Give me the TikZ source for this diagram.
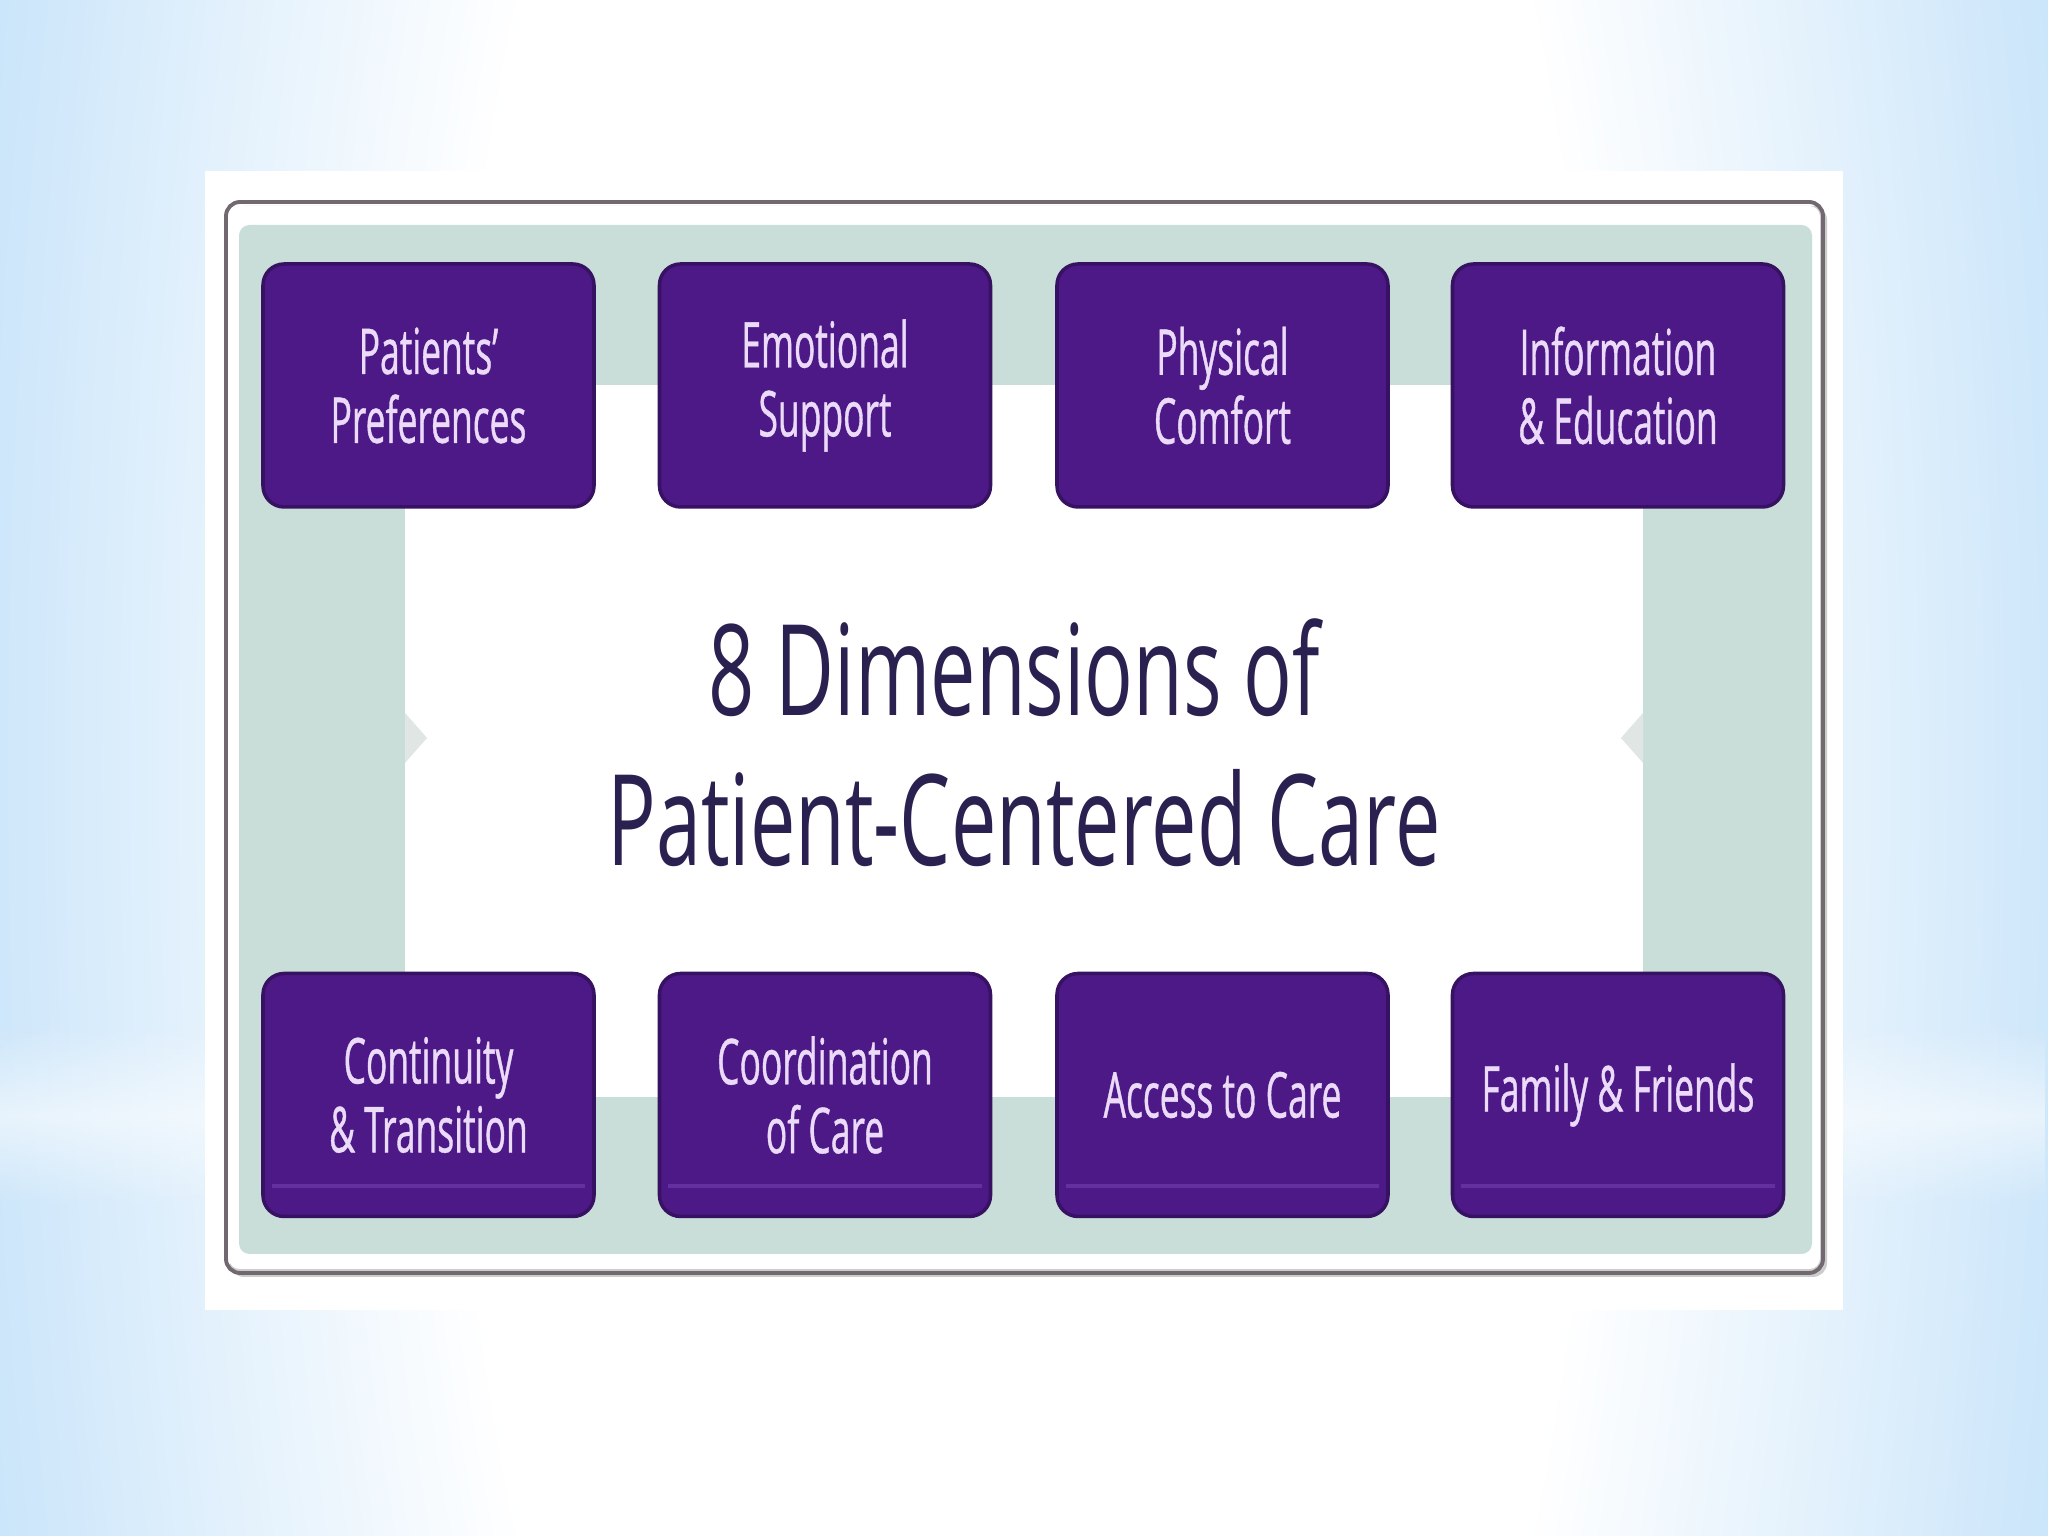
\documentclass[tikz,border=0pt]{standalone}
\usepackage{fontspec}
\setmainfont{Open Sans}
\newfontfamily\boxfont[FakeStretch=0.56, FakeBold=0.6]{Open Sans}
\newfontfamily\titlefont[FakeStretch=0.64]{Open Sans}
\usetikzlibrary{fadings}
\definecolor{bgblue}{HTML}{9ACDF5}
\definecolor{mint}{HTML}{C9DED8}
\definecolor{bordergray}{HTML}{716870}
\definecolor{boxpurple}{HTML}{4C1987}
\definecolor{boxedge}{HTML}{381262}
\definecolor{boxtext}{HTML}{EBDAF8}
\definecolor{boxstripe}{HTML}{6430A0}
\definecolor{titlecol}{HTML}{2B2150}
\definecolor{notchgray}{HTML}{DFE6E3}
\pgfdeclareradialshading{bgglow}{\pgfpoint{0bp}{0bp}}{color(0bp)=(white); color(14bp)=(white); color(37bp)=(bgblue); color(80bp)=(bgblue)}
\tikzfading[name=bandfade, top color=transparent!100, bottom color=transparent!100, middle color=transparent!30]
\tikzset{
  dimbox/.style={fill=boxpurple, draw=boxedge, line width=1pt, rounded corners=6pt,
    minimum width=3.31cm, minimum height=2.43cm, align=center, text=boxtext,
    font=\boxfont\fontsize{18}{19.6}\selectfont, inner sep=0pt},
  titletext/.style={text=titlecol, font=\titlefont\fontsize{36}{43}\selectfont, inner sep=0pt, anchor=base},
  stripe/.style={draw=boxstripe, line width=1.2pt}
}
\begin{document}
\begin{tikzpicture}
\useasboundingbox (0,0) rectangle (20.48,15.36);
% background
\fill[bgblue] (0,0) rectangle (20.48,15.36);
\begin{scope}
\clip (0,0) rectangle (20.48,15.36);
\shade[shading=bgglow] (0,-20) rectangle (20.48,35.36);
\fill[white, path fading=bandfade, opacity=0.75] (0,3.3) rectangle (20.48,5.1);
\end{scope}
% panel
\fill[white] (2.05,2.26) rectangle (18.43,13.65);
\fill[black!20, rounded corners=4pt] (2.30,2.59) rectangle (18.27,13.30);
\draw[draw=bordergray, line width=1.1pt, rounded corners=4pt] (2.26,2.63) rectangle (18.23,13.34);
\fill[white, rounded corners=3pt] (2.29,2.67) rectangle (18.20,13.30);
\fill[mint, rounded corners=3pt] (2.39,2.82) rectangle (18.12,13.11);
\fill[white] (4.05,4.39) rectangle (16.43,11.51);
% notches
\fill[notchgray] (4.05,8.23) -- (4.27,7.98) -- (4.05,7.73) -- cycle;
\fill[notchgray] (16.43,8.23) -- (16.21,7.98) -- (16.43,7.73) -- cycle;
% title
\node[titletext] (title1) at (10.14,8.20) {8 Dimensions of};
\node[titletext] (title2) at (10.24,6.70) {Patient-Centered Care};
% top row
\node[dimbox] (pref) at (4.285,11.505) {Patients’\\Preferences};
\node[dimbox] (emot) at (8.25,11.505) {Emotional\\Support};
\node[dimbox] (phys) at (12.225,11.505) {Physical\\Comfort};
\node[dimbox] (info) at (16.18,11.505) {Information\\\& Education};
% bottom row
\node[dimbox] (cont) at (4.285,4.41) {Continuity\\\& Transition};
\node[dimbox] (coord) at (8.25,4.41) {Coordination\\of Care};
\node[dimbox] (access) at (12.225,4.41) {Access to Care};
\node[dimbox] (family) at (16.18,4.41) {Family \& Friends};
\foreach \b in {cont,coord,access,family}{
  \draw[stripe] ([xshift=3pt,yshift=0.32cm]\b.south west) -- ([xshift=-3pt,yshift=0.32cm]\b.south east);
}
\end{tikzpicture}
\end{document}
